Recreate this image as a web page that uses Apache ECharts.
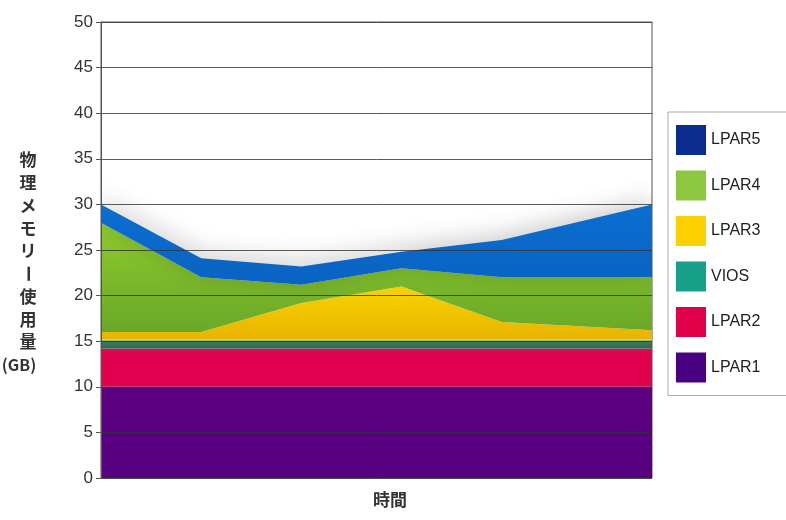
<!DOCTYPE html>
<html>
<head>
<meta charset="utf-8">
<script src="https://cdn.jsdelivr.net/npm/echarts@6/dist/echarts.min.js"></script>
<style>
  html, body { margin: 0; padding: 0; background: #fff; }
  #main { width: 786px; height: 520px; }
</style>
</head>
<body>
<div id="main"></div>
<script>
  // 時間軸の位置（目盛なし）
  var times = [0, 1, 2, 3, 4, 5.5];
  var yTicks = [0, 5, 10, 15, 20, 25, 30, 35, 40, 45, 50];
  // 積み上げ値 (GB)
  var lpar1 = [10, 10, 10, 10, 10, 10];
  var lpar2 = [4.2, 4.2, 4.2, 4.2, 4.2, 4.2];
  var vios  = [1.0, 1.0, 1.0, 1.0, 1.0, 1.0];
  var lpar3 = [0.8, 0.8, 4.0, 5.8, 1.9, 1.0];
  var lpar4 = [12, 6, 2.0, 2.0, 4.9, 5.8];
  var lpar5 = [2, 2.1, 2.0, 1.8, 4.1, 8];
  var legendOrder = ['LPAR5', 'LPAR4', 'LPAR3', 'VIOS', 'LPAR2', 'LPAR1'];

  var chart = echarts.init(document.getElementById('main'));

  function pairs(vals) {
    return vals.map(function (v, i) { return [times[i], v]; });
  }
  function grad(stops) {
    return new echarts.graphic.LinearGradient(0, 0, 0, 1, stops.map(function (s) {
      return {offset: s[0], color: s[1]};
    }));
  }
  function band(name, vals, legendColor, fill, extra) {
    var area = {color: fill, opacity: 1};
    if (extra) { for (var k in extra) area[k] = extra[k]; }
    return {
      name: name,
      type: 'line',
      stack: 'mem',
      data: pairs(vals),
      symbol: 'none',
      lineStyle: {width: 0},
      itemStyle: {color: legendColor},
      areaStyle: area
    };
  }

  // 縦書きの軸名
  var axisChars = ['物', '理', 'メ', 'モ', 'リ', 'ー', '使', '用', '量'];
  var nameEls = axisChars.map(function (c, i) {
    return {
      type: 'text',
      x: 28, y: 160 + i * 22.75,
      rotation: c === 'ー' ? -Math.PI / 2 : 0,
      style: {
        text: c, x: 0, y: 0, align: 'center', verticalAlign: 'middle',
        font: 'bold 17px "Noto Sans CJK JP"', fill: '#333'
      }
    };
  });
  nameEls.push({
    type: 'text', x: 19, y: 365,
    style: {
      text: '(GB)', align: 'center', verticalAlign: 'middle',
      font: 'bold 16px "Noto Sans CJK JP"', fill: '#333'
    }
  });
  nameEls.push({
    type: 'text', x: 390, y: 500,
    style: {
      text: '時間', align: 'center', verticalAlign: 'middle',
      font: 'bold 17px "Noto Sans CJK JP"', fill: '#333'
    }
  });

  chart.setOption({
    backgroundColor: '#fff',
    animation: false,
    grid: {
      left: 101, right: 134, top: 22, bottom: 42,
      show: true, borderColor: '#555', borderWidth: 1
    },
    legend: {
      data: legendOrder,
      orient: 'vertical',
      left: 668, top: 112,
      icon: 'rect',
      itemWidth: 30, itemHeight: 30, itemGap: 15.5,
      padding: [13, 120, 13, 8],
      borderColor: '#aaa', borderWidth: 1,
      textStyle: {fontSize: 16, color: '#222', fontFamily: 'Liberation Sans'}
    },
    // time 軸にして y 方向に積み上げる
    xAxis: {
      type: 'time', min: times[0], max: times[times.length - 1],
      axisLine: {show: false}, axisTick: {show: false},
      axisLabel: {show: false}, splitLine: {show: false}
    },
    yAxis: {
      type: 'value', min: yTicks[0], max: yTicks[yTicks.length - 1], interval: 5,
      z: 5,
      axisLine: {show: true, lineStyle: {color: '#555', width: 1}},
      axisTick: {show: true, length: 5, lineStyle: {color: '#555'}},
      axisLabel: {fontSize: 17, color: '#333', fontFamily: 'Liberation Sans', margin: 8},
      splitLine: {show: true, lineStyle: {color: 'rgba(50,50,50,0.8)', width: 1}}
    },
    graphic: nameEls,
    series: [
      band('LPAR1', lpar1, '#4b0082', grad([[0, '#5c0082'], [1, '#560080']])),
      band('LPAR2', lpar2, '#e0004a', grad([[0, '#c01a50'], [0.15, '#e2004f'], [0.9, '#e0004d'], [1, '#c0104a']])),
      band('VIOS', vios, '#16a08a', grad([[0, '#c8ec8c'], [0.3, '#3a7a58'], [1, '#2c6a50']])),
      band('LPAR3', lpar3, '#ffd000', grad([[0, '#f8d400'], [1, '#e8b300']])),
      band('LPAR4', lpar4, '#8dc63f', grad([[0, '#8fcb2e'], [1, '#6aa828']])),
      band('LPAR5', lpar5, '#0b2c8f', grad([[0, '#0b6ed0'], [1, '#0a63c2']]),
        {shadowColor: 'rgba(0,0,0,0.22)', shadowBlur: 24, shadowOffsetY: -4})
    ]
  });
</script>
</body>
</html>
